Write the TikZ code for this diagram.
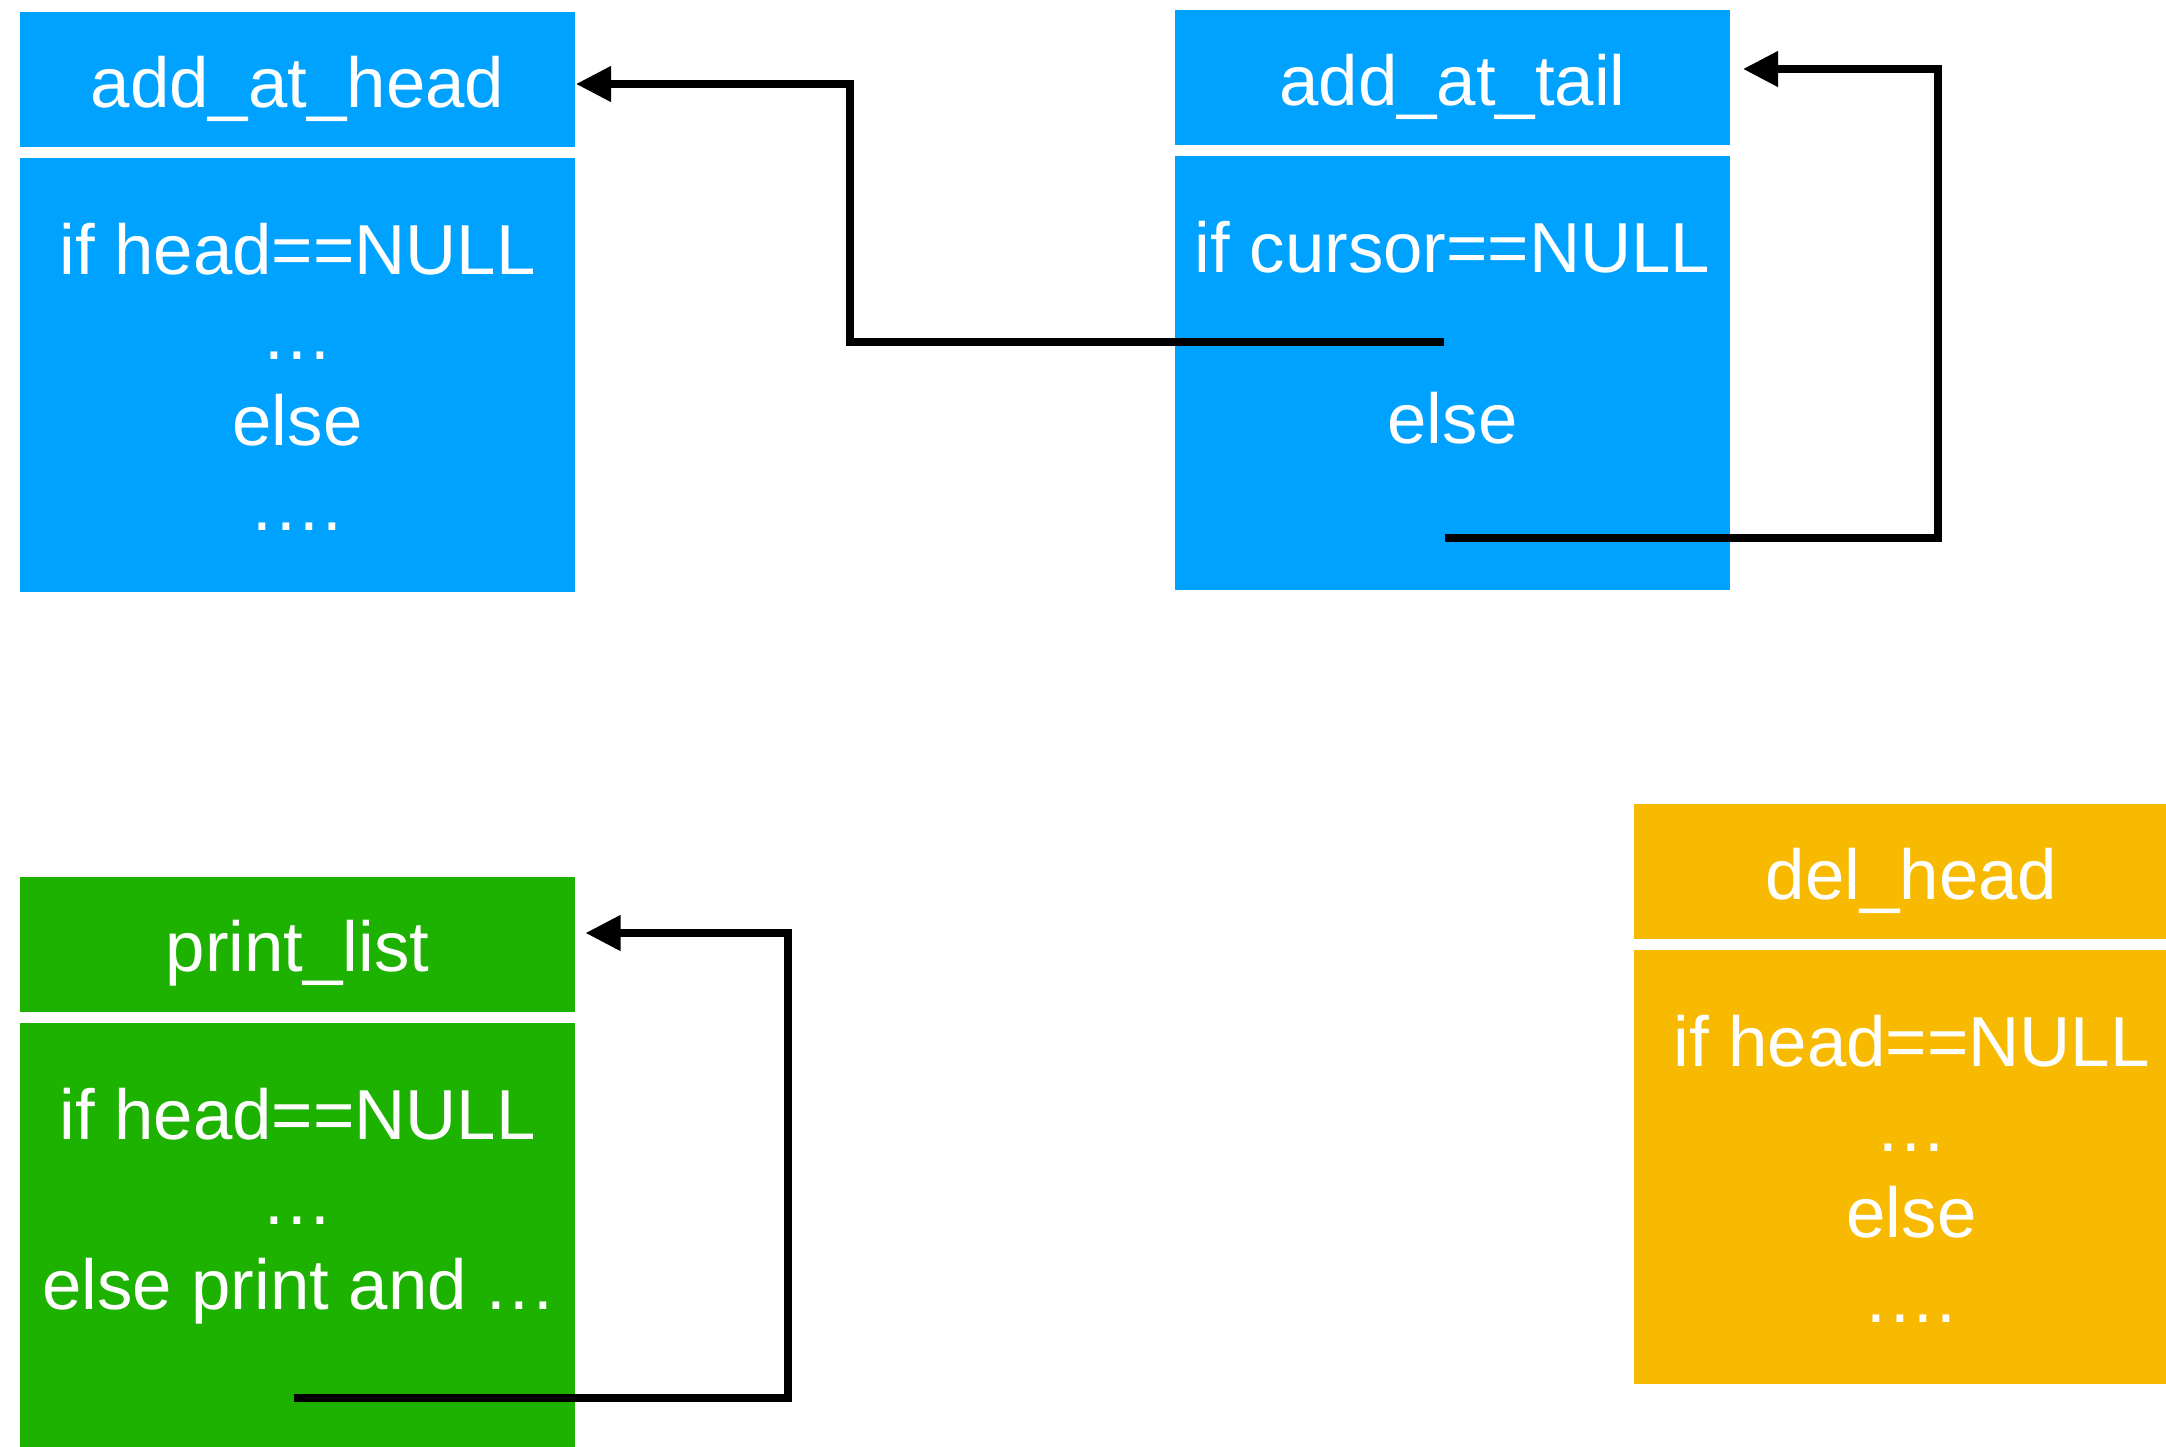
\documentclass[tikz,border=0pt]{standalone}
\usepackage{fontspec}
\setmainfont{Liberation Sans}
\usetikzlibrary{arrows.meta}
\definecolor{kblue}{HTML}{00A2FF}
\definecolor{kgreen}{HTML}{1DB100}
\definecolor{kyellow}{HTML}{F8BA00}
\newcommand{\dk}{\kern1.75pt}
\begin{document}
\begin{tikzpicture}[x=0.5pt,y=-0.5pt,
  hdr/.style={draw=none, anchor=north west, minimum width=277.5pt, minimum height=67.5pt, inner sep=0pt, outer sep=0pt},
  bdy/.style={draw=none, anchor=north west, minimum width=277.5pt, minimum height=217pt, inner sep=0pt, outer sep=0pt},
  txt/.style={anchor=base, text=white, font=\fontsize{35.4pt}{42pt}\selectfont, inner sep=0pt},
  conn/.style={draw=black, line width=3.75pt, line join=miter, -{Triangle[length=17.5pt,width=17pt]}}]
\useasboundingbox (0,0) rectangle (2166,1446);
\clip (0,0) rectangle (2166,1446);

% add_at_head
\node[hdr, fill=kblue] (h1) at (20,12) {};
\node[bdy, fill=kblue] (b1) at (20,158) {};
\node[txt] (h1t) at (297.5,107) {add\_at\_head};
\node[txt] (b1a) at (297.5,274) {if head==NULL};
\node[txt] (b1b) at (297.5,359) {.\dk.\dk.};
\node[txt] (b1c) at (297.5,445) {else};
\node[txt] (b1d) at (297.5,530.5) {.\dk.\dk.\dk.};

% add_at_tail
\node[hdr, fill=kblue] (h2) at (1175,10) {};
\node[bdy, fill=kblue] (b2) at (1175,156) {};
\node[txt] (h2t) at (1452.5,105) {add\_at\_tail};
\node[txt] (b2a) at (1452.5,272) {if cursor==NULL};
\node[txt] (b2c) at (1452.5,443) {else};

% print_list
\node[hdr, fill=kgreen] (h3) at (20,877) {};
\node[bdy, fill=kgreen] (b3) at (20,1023) {};
\node[txt] (h3t) at (297.5,971) {print\_list};
\node[txt] (b3a) at (297.5,1139) {if head==NULL};
\node[txt] (b3b) at (297.5,1224) {.\dk.\dk.};
\node[txt] (b3c) at (297.5,1309.5) {else print and .\dk.\dk.};

% del_head
\node[hdr, fill=kyellow] (h4) at (1634,804) {};
\node[bdy, fill=kyellow] (b4) at (1634,950) {};
\node[txt] (h4t) at (1911.5,899) {del\_head};
\node[txt] (b4a) at (1911.5,1066) {if head==NULL};
\node[txt] (b4b) at (1911.5,1151) {.\dk.\dk.};
\node[txt] (b4c) at (1911.5,1237) {else};
\node[txt] (b4d) at (1911.5,1322) {.\dk.\dk.\dk.};

% connectors
\coordinate (s1) at ([shift={(269,186)}]b2.north west);
\coordinate (e1) at ([shift={(1,4.5)}]h1.east);
\draw[conn] (s1) -| (850,84) -- (e1);

\coordinate (s2) at ([shift={(270,382)}]b2.north west);
\coordinate (e2) at ([shift={(13,-8.5)}]h2.east);
\draw[conn] (s2) -| (1938,69) -- (e2);

\coordinate (s3) at ([shift={(274,375)}]b3.north west);
\coordinate (e3) at ([shift={(10.5,-11.5)}]h3.east);
\draw[conn] (s3) -| (788,933) -- (e3);
\end{tikzpicture}
\end{document}
